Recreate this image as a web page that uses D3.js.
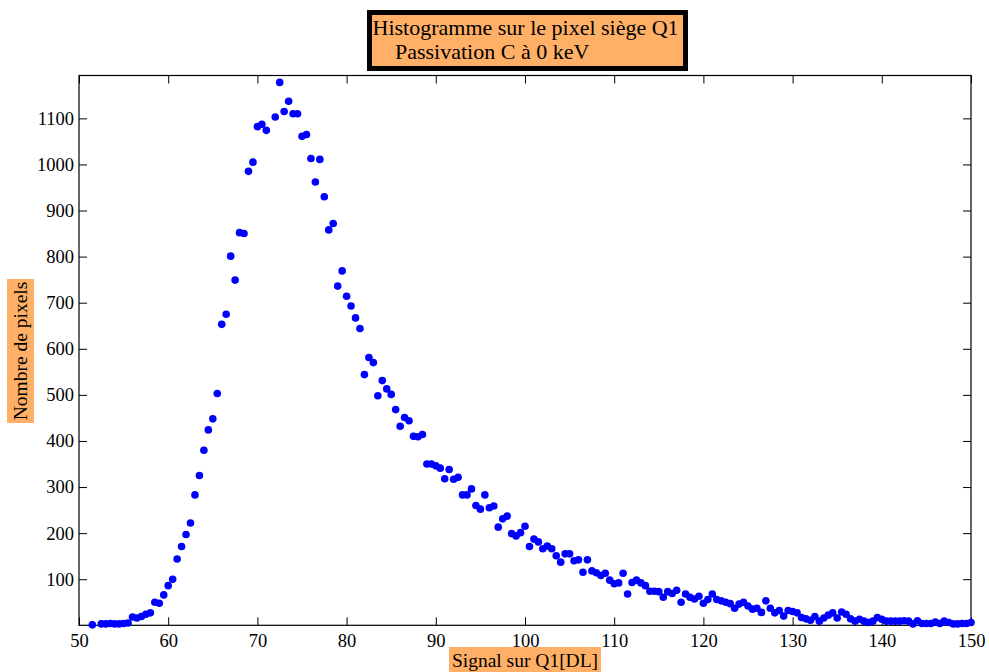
<!DOCTYPE html>
<html>
<head>
<meta charset="utf-8">
<script src="https://cdn.jsdelivr.net/npm/d3@7"></script>
<style>
  html, body { margin: 0; padding: 0; background: #ffffff; }
  svg { display: block; font-family: "Liberation Serif", "Times New Roman", serif; }
</style>
</head>
<body>
<svg id="chart" width="989" height="672"></svg>
<script>
// ---- Data ----
const titleLines = ["Histogramme sur le pixel siège Q1", "Passivation C à 0 keV"];
const xLabel = "Signal sur Q1[DL]";
const yLabel = "Nombre de pixels";

const xTicks = [50, 60, 70, 80, 90, 100, 110, 120, 130, 140, 150];
const yTicks = [100, 200, 300, 400, 500, 600, 700, 800, 900, 1000, 1100];

const signal = [
  51.5, 52.5, 53, 53.5, 54, 54.5, 55, 55.5, 56, 56.5, 57, 57.5, 58, 58.5, 59, 59.5,
  60, 60.5, 61, 61.5, 62, 62.5, 63, 63.5, 64, 64.5, 65, 65.5, 66, 66.5, 67, 67.5,
  68, 68.5, 69, 69.5, 70, 70.5, 71, 72, 72.5, 73, 73.5, 74, 74.5, 75, 75.5,
  76, 76.5, 77, 77.5, 78, 78.5, 79, 79.5, 80, 80.5, 81, 81.5, 82, 82.5, 83, 83.5,
  84, 84.5, 85, 85.5, 86, 86.5, 87, 87.5, 88, 88.5, 89, 89.5, 90, 90.5, 91, 91.5,
  92, 92.5, 93, 93.5, 94, 94.5, 95, 95.5, 96, 96.5, 97, 97.5, 98, 98.5, 99, 99.5,
  100, 100.5, 101, 101.5, 102, 102.5, 103, 103.5, 104, 104.5, 105, 105.5, 106, 106.5, 107, 107.5,
  108, 108.5, 109, 109.5, 110, 110.5, 111, 111.5, 112, 112.5, 113, 113.5, 114, 114.5, 115, 115.5,
  116, 116.5, 117, 117.5, 118, 118.5, 119, 119.5, 120, 120.5, 121, 121.5, 122, 122.5, 123, 123.5,
  124, 124.5, 125, 125.5, 126, 126.5, 127, 127.5, 128, 128.5, 129, 129.5, 130, 130.5, 131, 131.5,
  132, 132.5, 133, 133.5, 134, 134.5, 135, 135.5, 136, 136.5, 137, 137.5, 138, 138.5, 139, 139.5,
  140, 140.5, 141, 141.5, 142, 142.5, 143, 143.5, 144, 144.5, 145, 145.5, 146, 146.5, 147, 147.5,
  148, 148.5, 149, 149.5, 150
];

const pixels = [
  1, 3, 3, 4, 3, 3, 4, 5, 18, 16, 19, 24, 27, 50, 48, 66,
  86, 100, 144, 171, 197, 222, 283, 325, 380, 424, 448, 503, 653, 675, 801, 749,
  852, 850, 985, 1005, 1082, 1087, 1074, 1103, 1178, 1115, 1137, 1110, 1110, 1061, 1065,
  1013, 962, 1011, 930, 858, 872, 736, 769, 714, 693, 667, 644, 544, 581, 570, 498,
  531, 513, 501, 468, 432, 451, 444, 410, 409, 414, 350, 350, 346, 341, 318, 338,
  317, 321, 283, 283, 296, 260, 252, 283, 255, 259, 213, 231, 237, 199, 194, 201,
  215, 171, 187, 181, 166, 172, 166, 151, 137, 155, 155, 140, 142, 115, 142, 118,
  114, 108, 113, 98, 90, 92, 113, 68, 93, 98, 92, 86, 74, 74, 73, 61,
  73, 69, 76, 50, 68, 61, 57, 63, 48, 56, 68, 56, 53, 50, 47, 37,
  46, 50, 42, 35, 37, 28, 53, 37, 27, 32, 20, 32, 30, 27, 17, 14,
  11, 19, 9, 16, 22, 27, 16, 29, 24, 14, 9, 13, 9, 6, 9, 17,
  13, 9, 9, 9, 9, 10, 9, 3, 10, 4, 4, 4, 7, 4, 9, 6,
  3, 3, 4, 4, 6
];

// ---- Layout ----
const svg = d3.select("#chart");
const mLeft = 79, mRight = 971, mTop = 75.5, mBottom = 625.3;
const orange = "#ffb066";

const x = d3.scaleLinear().domain([50, 150]).range([mLeft, mRight]);
const y = d3.scaleLinear().domain([0, 1193]).range([mBottom, mTop]);

// frame
svg.append("rect")
  .attr("x", mLeft).attr("y", mTop)
  .attr("width", mRight - mLeft).attr("height", mBottom - mTop)
  .attr("fill", "none").attr("stroke", "#000").attr("stroke-width", 1.2);

const tickLen = 8;
const fs = "18.5px";

// bottom axis
const gx = svg.append("g").attr("transform", `translate(0,${mBottom})`)
  .call(d3.axisBottom(x).tickValues(xTicks).tickFormat(d3.format("d"))
    .tickSizeInner(-tickLen).tickSizeOuter(0).tickPadding(9));
// top axis (ticks only)
const gxt = svg.append("g").attr("transform", `translate(0,${mTop})`)
  .call(d3.axisTop(x).tickValues(xTicks).tickFormat("")
    .tickSizeInner(-tickLen).tickSizeOuter(0));
// left axis
const gy = svg.append("g").attr("transform", `translate(${mLeft},0)`)
  .call(d3.axisLeft(y).tickValues(yTicks).tickFormat(d3.format("d"))
    .tickSizeInner(-tickLen).tickSizeOuter(0).tickPadding(5));
// right axis (ticks only)
const gyr = svg.append("g").attr("transform", `translate(${mRight},0)`)
  .call(d3.axisRight(y).tickValues(yTicks).tickFormat("")
    .tickSizeInner(-tickLen).tickSizeOuter(0));

[gx, gxt, gy, gyr].forEach(g => {
  g.select(".domain").remove();
  g.selectAll(".tick line").attr("stroke", "#000").attr("stroke-width", 1);
  g.selectAll(".tick text")
    .attr("fill", "#000")
    .style("font-family", '"Liberation Serif", "Times New Roman", serif')
    .style("font-size", fs);
});

// points
svg.append("g").selectAll("circle")
  .data(signal.map((s, i) => ({ s, v: pixels[i] })))
  .join("circle")
  .attr("cx", d => x(d.s))
  .attr("cy", d => y(d.v))
  .attr("r", 3.8)
  .attr("fill", "#0000ff");

// title box
svg.append("rect")
  .attr("x", 369.5).attr("y", 12.5)
  .attr("width", 316).attr("height", 56)
  .attr("fill", orange).attr("stroke", "#000").attr("stroke-width", 5);
svg.append("text").attr("x", 372.5).attr("y", 35)
  .style("font-size", "22px").attr("fill", "#000").text(titleLines[0]);
svg.append("text").attr("x", 395).attr("y", 58.5)
  .style("font-size", "22px").attr("fill", "#000").text(titleLines[1]);

// x label
svg.append("rect").attr("x", 449).attr("y", 647)
  .attr("width", 152).attr("height", 26).attr("fill", orange);
svg.append("text").attr("x", 525).attr("y", 667)
  .attr("text-anchor", "middle")
  .style("font-size", "19.5px").attr("fill", "#000").text(xLabel);

// y label
svg.append("rect").attr("x", 7).attr("y", 279)
  .attr("width", 27).attr("height", 144).attr("fill", orange);
svg.append("text")
  .attr("transform", "translate(27,351) rotate(-90)")
  .attr("text-anchor", "middle")
  .style("font-size", "19.5px").attr("fill", "#000").text(yLabel);
</script>
</body>
</html>
